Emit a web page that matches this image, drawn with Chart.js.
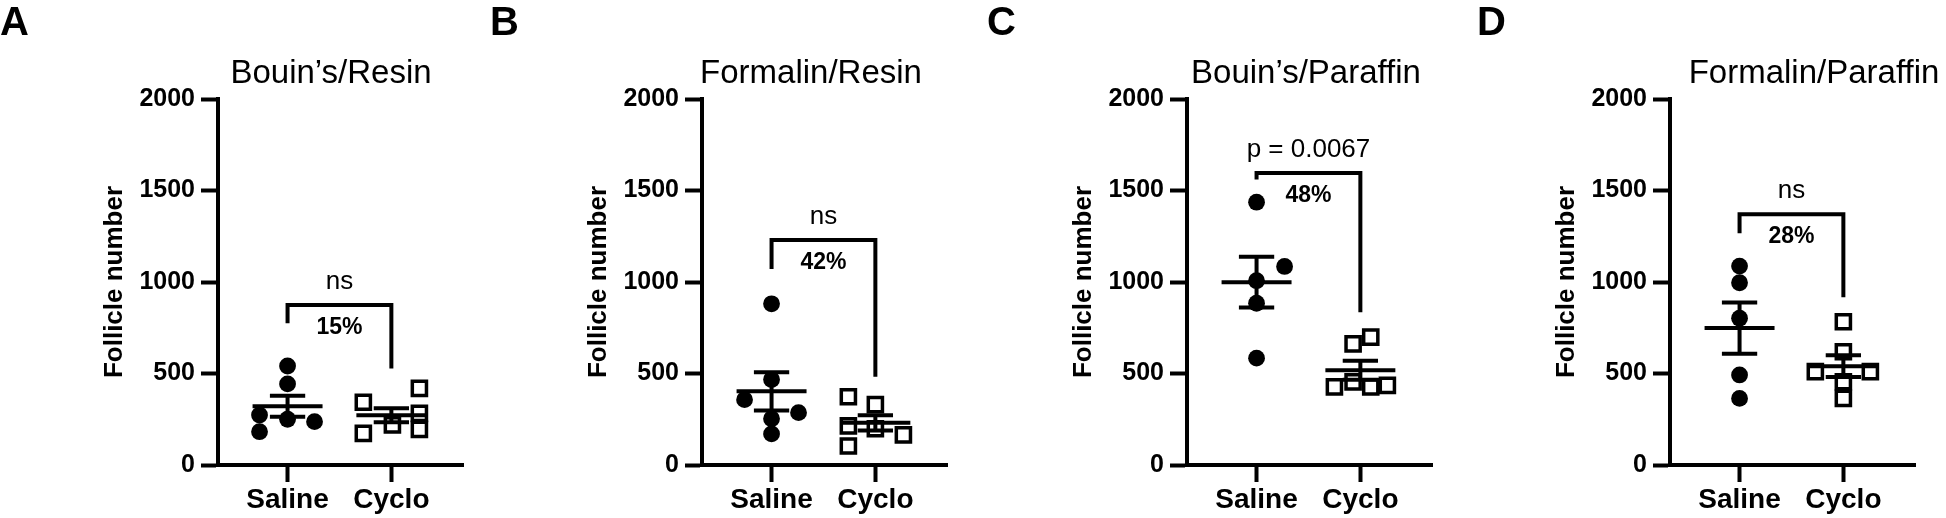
<!DOCTYPE html>
<html>
<head>
<meta charset="utf-8">
<script src="https://cdn.jsdelivr.net/npm/chart.js@4.4.1/dist/chart.umd.min.js"></script>
<style>
  html, body { margin: 0; padding: 0; background: #fff; }
  #wrap { position: relative; width: 1946px; height: 518px; overflow: hidden; background: #fff; }
  canvas { position: absolute; top: 0; }
</style>
</head>
<body>
<div id="wrap">
  <canvas id="panelA" width="494" height="518" style="left:0px"></canvas>
  <canvas id="panelB" width="494" height="518" style="left:484px"></canvas>
  <canvas id="panelC" width="494" height="518" style="left:969px"></canvas>
  <canvas id="panelD" width="494" height="518" style="left:1452px"></canvas>
</div>
<script>
// === Data ===
const groupLabels = ["Saline", "Cyclo"];
const yTicks = [0, 500, 1000, 1500, 2000];

const titles = ["Bouin’s/Resin", "Formalin/Resin", "Bouin’s/Paraffin", "Formalin/Paraffin"];
const panelLetters = ["A", "B", "C", "D"];
const sigLabels = ["ns", "ns", "p = 0.0067", "ns"];
const pctLabels = ["15%", "42%", "48%", "28%"];

// bracket: top value, end of left leg, end of right leg (follicle number units)
const bracketTop = [874, 1229, 1596, 1370];
const bracketLeftEnd = [774, 1071, 1560, 1266];
const bracketRightEnd = [528, 482, 835, 916];

// follicle counts per animal, with horizontal spread (in group units)
const salineA = [541, 443, 273, 250, 237, 182];
const salineAJit = [0, 0, -0.27, 0, 0.26, -0.27];
const cycloA = [419, 343, 282, 219, 195, 173];
const cycloAJit = [0.27, -0.27, 0.27, 0.01, 0.27, -0.27];

const salineB = [881, 467, 357, 286, 253, 170];
const salineBJit = [0, 0, -0.26, 0.26, 0, 0];
const cycloB = [373, 330, 214, 198, 165, 104];
const cycloBJit = [-0.26, 0, -0.26, 0, 0.27, -0.26];

const salineC = [1436, 1085, 1007, 884, 584];
const salineCJit = [0, 0.27, 0, 0, 0];
const cycloC = [699, 662, 454, 435, 427, 427];
const cycloCJit = [0.1, -0.07, -0.07, 0.26, -0.25, 0.1];

const salineD = [1087, 996, 802, 492, 364];
const salineDJit = [0, 0, 0, 0, 0];
const cycloD = [783, 619, 510, 510, 455, 364];
const cycloDJit = [0, 0, -0.27, 0.26, 0, 0];

// === Layout / style ===
const FONT = "'Liberation Sans', Arial, Helvetica, sans-serif";
const letterX = [0, 6, 18, 25];
const titleX = [331, 327, 337, 362];
Chart.defaults.font.family = FONT;
Chart.defaults.color = "#000";

function mean(a) {
  return a.reduce((s, v) => s + v, 0) / a.length;
}
function sem(a) {
  const m = mean(a);
  const sd = Math.sqrt(a.reduce((s, v) => s + (v - m) * (v - m), 0) / (a.length - 1));
  return sd / Math.sqrt(a.length);
}

const annotPlugin = {
  id: "annot",
  afterDatasetsDraw(chart, args, opts) {
    const { ctx } = chart;
    const xs = chart.scales.x;
    const ys = chart.scales.y;
    ctx.save();
    ctx.strokeStyle = "#000";
    ctx.lineWidth = 4;
    ctx.lineCap = "butt";
    ctx.lineJoin = "miter";

    // mean +/- SEM
    opts.groups.forEach((vals, g) => {
      const m = mean(vals);
      const s = sem(vals);
      ctx.beginPath();
      ctx.moveTo(xs.getPixelForValue(g - 0.337), ys.getPixelForValue(m));
      ctx.lineTo(xs.getPixelForValue(g + 0.337), ys.getPixelForValue(m));
      ctx.moveTo(xs.getPixelForValue(g), ys.getPixelForValue(m - s));
      ctx.lineTo(xs.getPixelForValue(g), ys.getPixelForValue(m + s));
      [m - s, m + s].forEach((v) => {
        ctx.moveTo(xs.getPixelForValue(g - 0.17), ys.getPixelForValue(v));
        ctx.lineTo(xs.getPixelForValue(g + 0.17), ys.getPixelForValue(v));
      });
      ctx.stroke();
    });

    // comparison bracket
    const i = opts.index;
    const x0 = xs.getPixelForValue(0);
    const x1 = xs.getPixelForValue(1);
    const yTop = ys.getPixelForValue(bracketTop[i]);
    ctx.beginPath();
    ctx.moveTo(x0, ys.getPixelForValue(bracketLeftEnd[i]));
    ctx.lineTo(x0, yTop);
    ctx.lineTo(x1, yTop);
    ctx.lineTo(x1, ys.getPixelForValue(bracketRightEnd[i]));
    ctx.stroke();

    ctx.fillStyle = "#000";
    ctx.textAlign = "center";
    ctx.textBaseline = "alphabetic";
    ctx.font = "26px " + FONT;
    ctx.fillText(sigLabels[i], (x0 + x1) / 2, yTop - 16);
    ctx.font = "bold 23px " + FONT;
    ctx.fillText(pctLabels[i], (x0 + x1) / 2, yTop + 29);

    // title and panel letter
    ctx.font = "33px " + FONT;
    ctx.fillText(titles[i], titleX[i], 83);
    ctx.textAlign = "left";
    ctx.font = "bold 40px " + FONT;
    ctx.fillText(panelLetters[i], letterX[i], 35);
    ctx.restore();
  },
};

function drawPanel(canvasId, index, saline, salineJit, cyclo, cycloJit) {
  new Chart(document.getElementById(canvasId), {
    type: "scatter",
    data: {
      datasets: [
        {
          label: groupLabels[0],
          data: saline.map((v, k) => ({ x: 0 + salineJit[k], y: v })),
          pointStyle: "circle",
          pointRadius: 8.4,
          pointBorderWidth: 0,
          backgroundColor: "#000",
          borderColor: "#000",
        },
        {
          label: groupLabels[1],
          data: cyclo.map((v, k) => ({ x: 1 + cycloJit[k], y: v })),
          pointStyle: "rect",
          pointRadius: 10,
          pointBorderWidth: 3.5,
          backgroundColor: "#fff",
          borderColor: "#000",
        },
      ],
    },
    options: {
      responsive: false,
      animation: false,
      layout: { padding: { left: 80, top: 99, right: 31, bottom: 0 } },
      plugins: {
        legend: { display: false },
        tooltip: { enabled: false },
        annot: { index: index, groups: [saline, cyclo] },
      },
      scales: {
        x: {
          type: "linear",
          min: -0.67,
          max: 1.69,
          afterBuildTicks: (ax) => {
            ax.ticks = groupLabels.map((l, k) => ({ value: k }));
          },
          afterFit: (s) => {
            s.height = 53;
          },
          ticks: {
            callback: (v) => groupLabels[v],
            color: "#000",
            font: { size: 28, weight: "bold" },
            padding: 1,
            maxRotation: 0,
            autoSkip: false,
          },
          grid: { drawOnChartArea: false, drawTicks: true, tickLength: 17, tickWidth: 4, tickColor: "#000" },
          border: { display: true, width: 4, color: "#000" },
        },
        y: {
          min: yTicks[0],
          max: yTicks[yTicks.length - 1],
          afterBuildTicks: (ax) => {
            ax.ticks = yTicks.map((v) => ({ value: v }));
          },
          afterFit: (s) => {
            s.width = 138;
          },
          ticks: {
            callback: (v) => String(v),
            color: "#000",
            font: { size: 25, weight: "bold" },
            padding: 6,
          },
          grid: { drawOnChartArea: false, drawTicks: true, tickLength: 17, tickWidth: 4, tickColor: "#000" },
          border: { display: true, width: 4, color: "#000" },
          title: {
            display: true,
            text: "Follicle number",
            color: "#000",
            font: { size: 26, weight: "bold" },
            padding: { top: 19, bottom: 0 },
          },
        },
      },
    },
    plugins: [annotPlugin],
  });
}

drawPanel("panelA", 0, salineA, salineAJit, cycloA, cycloAJit);
drawPanel("panelB", 1, salineB, salineBJit, cycloB, cycloBJit);
drawPanel("panelC", 2, salineC, salineCJit, cycloC, cycloCJit);
drawPanel("panelD", 3, salineD, salineDJit, cycloD, cycloDJit);
</script>
</body>
</html>
